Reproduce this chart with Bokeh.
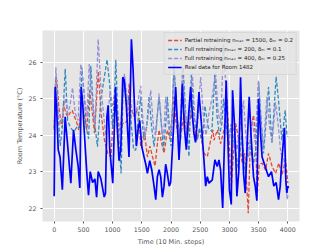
from bokeh.plotting import figure
from bokeh.models import FixedTicker, Legend, LegendItem, Range1d
from bokeh.embed import file_html
from bokeh.resources import INLINE

# ---- data ----
partial_t = [0, 24, 46, 80, 103, 137, 160, 200, 234, 263, 308, 348, 377, 422, 450, 474, 519, 559, 605, 650, 690,
             755, 804, 861, 918, 975, 1026, 1060, 1090, 1118, 1174, 1209, 1254, 1283, 1320, 1368, 1425, 1454, 1480,
             1511, 1545, 1596, 1640, 1682, 1727, 1767, 1796, 1841, 1881, 1938, 1980, 2024, 2052, 2081, 2126, 2183,
             2223, 2280, 2337, 2394, 2434, 2480, 2525, 2565, 2622, 2679, 2719, 2736, 2793, 2850, 2907, 2960, 2990,
             3032, 3070, 3106, 3163, 3220, 3260, 3294, 3323, 3363, 3413, 3448, 3477, 3510, 3562, 3619, 3670, 3733,
             3790, 3847, 3900, 3961, 4001]
partial_temp = [24.14, 25.59, 25.5, 24.77, 24.5, 24.2, 24.86, 24.6, 24.5, 24.59, 24.68, 24.5, 24.4, 24.14, 24.6,
                25.05, 24.5, 24.14, 25.23, 24.68, 24.05, 25.75, 24.59, 23.86, 23.5, 23.41, 25.05, 25.05, 24.5,
                24.14, 24.32, 24.32, 24.41, 25.41, 24.7, 24.5, 24.7, 24.5, 23.7, 23.86, 24.1, 23.4, 23.7, 23.41,
                23.15, 23.77, 24.14, 23.77, 23.5, 24.14, 23.9, 24.59, 25.05, 24.41, 23.95, 24.14, 24.59, 23.95,
                24.59, 24.23, 23.86, 24.14, 23.86, 23.5, 23.41, 23.86, 24.14, 23.86, 24.14, 23.77, 24.14, 25.0,
                24.0, 22.59, 23.5, 24.32, 23.86, 23.23, 23.5, 22.68, 21.86, 24.14, 24.55, 23.95, 22.32, 23.2,
                23.23, 23.04, 23.5, 23.13, 22.95, 23.23, 22.9, 23.32, 22.68]

full200_t = [0, 35, 70, 103, 140, 189, 230, 280, 340, 400, 440, 474, 520, 548, 590, 627, 680, 741, 800, 860, 905,
             950, 1000, 1030, 1055, 1090, 1120, 1146, 1175, 1200, 1240, 1283, 1320, 1360, 1397, 1440, 1482, 1510,
             1539, 1580, 1625, 1670, 1710, 1750, 1796, 1840, 1870, 1910, 1938, 1980, 2000, 2052, 2100, 2166, 2206,
             2252, 2308, 2348, 2394, 2451, 2490, 2537, 2580, 2640, 2700, 2750, 2790, 2830, 2870, 2900, 2950, 2986,
             3030, 3100, 3157, 3210, 3271, 3330, 3413, 3450, 3499, 3556, 3584, 3620, 3670, 3727, 3760, 3800, 3841,
             3898, 3955, 3983, 4000]
full200_temp = [24.2, 25.6, 24.5, 23.7, 24.2, 25.82, 24.4, 24.2, 24.1, 24.25, 24.2, 25.86, 25.0, 24.2, 23.9, 25.9,
                24.5, 23.68, 25.0, 25.6, 26.07, 25.4, 24.2, 25.0, 26.07, 24.5, 23.5, 22.95, 25.0, 25.6, 24.8, 25.05,
                24.3, 23.6, 23.59, 24.5, 25.05, 24.3, 23.86, 24.2, 25.05, 24.2, 23.68, 24.3, 25.05, 24.2, 23.6,
                24.3, 25.05, 24.0, 23.7, 25.95, 24.5, 23.86, 25.86, 24.6, 23.41, 25.68, 24.5, 23.86, 24.2, 23.77,
                24.8, 24.2, 24.1, 25.7, 24.5, 24.0, 24.3, 25.0, 24.2, 23.77, 24.3, 23.6, 23.05, 24.0, 22.95, 23.8,
                23.23, 23.6, 25.45, 24.14, 23.5, 24.2, 25.32, 23.77, 24.6, 25.6, 24.95, 23.86, 24.68, 24.04, 23.95]

full400_t = [0, 29, 63, 100, 140, 190, 230, 270, 314, 360, 410, 456, 520, 560, 600, 650, 700, 753, 800, 850, 880,
             920, 960, 1000, 1050, 1100, 1150, 1203, 1250, 1300, 1340, 1380, 1420, 1482, 1520, 1560, 1600, 1653,
             1700, 1740, 1796, 1840, 1870, 1910, 1960, 2000, 2052, 2100, 2150, 2195, 2250, 2290, 2365, 2410, 2450,
             2508, 2560, 2600, 2650, 2700, 2764, 2810, 2850, 2900, 2950, 2990, 3030, 3080, 3130, 3200, 3242, 3290,
             3330, 3390, 3440, 3499, 3540, 3580, 3641, 3690, 3730, 3790, 3840, 3880, 3930, 3960, 3989, 4007]
full400_temp = [24.2, 25.86, 24.59, 24.3, 24.5, 25.0, 24.6, 24.8, 25.3, 24.6, 24.4, 25.95, 25.0, 24.5, 25.95, 25.0,
                24.3, 26.63, 25.3, 24.5, 24.0, 24.6, 25.2, 24.8, 25.0, 23.8, 24.5, 25.68, 25.0, 24.3, 24.7, 24.4,
                24.8, 25.35, 24.4, 24.0, 24.4, 25.23, 24.2, 24.0, 25.14, 24.2, 23.9, 25.05, 24.2, 24.0, 25.8, 24.6,
                24.0, 25.77, 24.5, 24.0, 25.7, 24.4, 24.2, 25.6, 24.4, 24.0, 24.6, 25.0, 25.68, 24.6, 24.3, 26.5,
                25.0, 23.8, 24.3, 24.1, 23.6, 24.4, 24.95, 23.8, 23.4, 24.4, 23.8, 25.5, 24.4, 23.6, 25.05, 24.2,
                23.8, 24.9, 24.2, 23.5, 23.4, 22.9, 22.23, 22.4]

real_t = [0, 17, 40, 69, 100, 140, 188, 228, 285, 331, 371, 411, 439, 462, 485, 513, 559, 588, 617, 657, 697, 726,
          754, 800, 857, 878, 903, 924, 952, 1003, 1049, 1080, 1110, 1140, 1174, 1200, 1236, 1281, 1322, 1351, 1380,
          1408, 1440, 1465, 1500, 1539, 1568, 1596, 1636, 1670, 1710, 1739, 1767, 1796, 1824, 1853, 1880, 1909,
          1937, 1970, 1994, 2030, 2080, 2137, 2160, 2194, 2230, 2262, 2290, 2336, 2365, 2393, 2420, 2450, 2479,
          2524, 2564, 2593, 2621, 2650, 2707, 2752, 2792, 2821, 2849, 2885, 2915, 2945, 2970, 3000, 3032, 3054,
          3089, 3111, 3128, 3160, 3191, 3214, 3242, 3271, 3300, 3339, 3370, 3413, 3442, 3470, 3500, 3530, 3560,
          3600, 3640, 3670, 3720, 3760, 3800, 3841, 3870, 3898, 3943, 3966, 3983, 4000, 4012]
real_temp = [22.32, 25.32, 24.82, 23.6, 23.4, 22.5, 24.5, 23.77, 22.68, 24.14, 23.6, 23.14, 22.55, 25.32, 24.95,
             24.14, 22.95, 22.35, 23.0, 22.7, 22.8, 22.3, 23.0, 22.8, 22.3, 22.4, 24.5, 24.82, 23.6, 22.68, 25.32,
             24.2, 23.3, 23.6, 25.59, 25.5, 24.8, 23.4, 26.63, 25.8, 24.55, 23.7, 24.2, 24.4, 23.68, 23.4, 23.2,
             22.95, 23.3, 23.05, 22.6, 22.23, 22.86, 23.05, 22.86, 22.3, 22.6, 23.2, 22.95, 22.6, 22.7, 23.8,
             25.32, 23.32, 24.0, 25.41, 24.2, 23.6, 24.3, 25.32, 24.6, 24.04, 23.8, 24.4, 25.18, 24.23, 23.32,
             22.6, 22.86, 22.68, 22.77, 23.32, 23.14, 23.32, 23.04, 22.0, 23.8, 25.5, 24.1, 22.5, 22.1, 25.23,
             24.23, 23.32, 22.32, 23.0, 25.59, 24.23, 22.95, 22.41, 23.6, 25.05, 24.0, 22.86, 22.6, 22.2, 25.0,
             24.1, 23.4, 23.2, 23.0, 22.86, 23.0, 22.6, 22.7, 22.23, 22.6, 23.32, 24.2, 22.77, 22.41, 22.6, 22.55]

x_ticks = [0, 500, 1000, 1500, 2000, 2500, 3000, 3500, 4000]
y_ticks = [22, 23, 24, 25, 26]

labels = ["Partial retraining n\u2098\u2090\u2093 = 1500, \u03b4\u2098 = 0.2",
          "Full retraining n\u2098\u2090\u2093 = 200, \u03b4\u2098 = 0.1",
          "Full retraining n\u2098\u2090\u2093 = 400, \u03b4\u2098 = 0.25",
          "Real data for Room 1482"]

FONT = "DejaVu Sans"

p = figure(width=325, height=248, output_backend="svg", toolbar_location=None,
           x_range=Range1d(-200, 4200), y_range=Range1d(21.63, 26.87),
           min_border_left=42, min_border_right=26, min_border_top=30, min_border_bottom=26)
p.background_fill_color = "#E5E5E5"
p.border_fill_color = "white"
p.outline_line_color = None

for g in (p.xgrid, p.ygrid):
    g.grid_line_color = "white"
    g.grid_line_width = 1

p.xaxis.ticker = FixedTicker(ticks=x_ticks)
p.yaxis.ticker = FixedTicker(ticks=y_ticks)
for ax in (p.xaxis, p.yaxis):
    ax.axis_line_color = None
    ax.major_tick_line_color = "#555555"
    ax.major_tick_out = 2
    ax.major_tick_in = 0
    ax.minor_tick_line_color = None
    ax.major_label_text_font = FONT
    ax.major_label_text_font_size = "6.3px"
    ax.major_label_text_color = "#555555"
    ax.axis_label_text_font = FONT
    ax.axis_label_text_font_size = "6.5px"
    ax.axis_label_text_font_style = "normal"
    ax.axis_label_text_color = "#555555"
p.xaxis.major_label_standoff = 3
p.yaxis.major_label_standoff = 4
p.xaxis.axis_label_standoff = 3
p.yaxis.axis_label_standoff = 1
p.xaxis.axis_label = "Time (10 Min. steps)"
p.yaxis.axis_label = "Room Temperature (\u00b0C)"

r1 = p.line(partial_t, partial_temp, line_color="#E24A33", line_width=1.3, line_dash="4 2")
r2 = p.line(full200_t, full200_temp, line_color="#348ABD", line_width=1.3, line_dash="4 2")
r3 = p.line(full400_t, full400_temp, line_color="#988ED5", line_width=1.3, line_dash="4 2")
r4 = p.line(real_t, real_temp, line_color="#0000FF", line_width=1.7)

legend = Legend(items=[LegendItem(label=labels[0], renderers=[r1]),
                       LegendItem(label=labels[1], renderers=[r2]),
                       LegendItem(label=labels[2], renderers=[r3]),
                       LegendItem(label=labels[3], renderers=[r4])],
                location="top_right", margin=2, padding=3, spacing=1,
                label_text_font=FONT, label_text_font_size="5.5px", label_text_color="#222222",
                label_height=8, glyph_height=8, glyph_width=14, label_standoff=3,
                background_fill_color="#E5E5E5", background_fill_alpha=0.8,
                border_line_color="#CCCCCC", border_line_width=1)
p.add_layout(legend)

open("out.html", "w").write(file_html(p, INLINE))
